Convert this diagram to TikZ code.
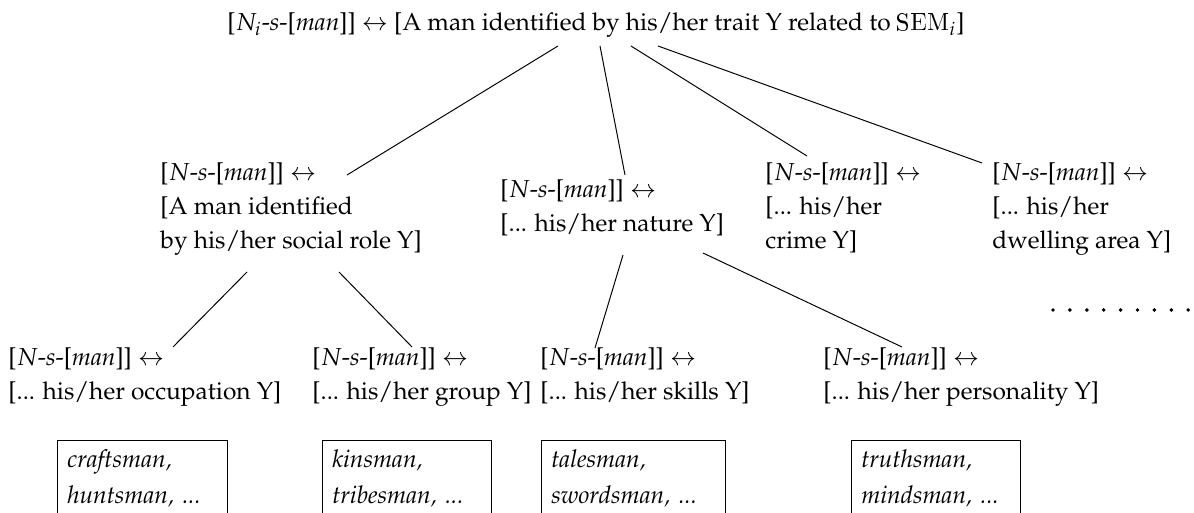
\documentclass[tikz,border=0pt]{standalone}
\usepackage[T1]{fontenc}
\usepackage{mathpazo}
\usetikzlibrary{positioning, calc}

\newcommand{\nsman}{[$N$-\textit{s}-[\textit{man}]] $\leftrightarrow$}

\tikzset{
    cx/.style={anchor=base west, align=left, inner sep=0pt,
        font=\fontsize{10}{13.9}\selectfont},
    exbox/.style={draw, anchor=north west, align=left, inner xsep=4pt,
        inner ysep=4pt, text width=#1, text depth=30pt,
        font=\fontsize{10}{14.5}\selectfont\itshape}
}

\begin{document}
\begin{tikzpicture}[x=0.408pt, y=-0.408pt]
    \useasboundingbox (0,0) rectangle (1194,513);
    \clip (0,0) rectangle (1194,513);

    \node[cx, anchor=base] (root) at (596,31) {[$N_i$-\textit{s}-[\textit{man}]] $\leftrightarrow$ [A man identified by his/her trait Y related to \textsf{SEM}$_i$]};

    % second level (placed by last line)
    \node[cx] (soc) at (160,249) {\nsman\\ {[}A man identified\\ by his/her social role Y]};
    \node[cx] (nat) at (500,232) {\nsman\\ {[}... his/her nature Y]};
    \node[cx] (crm) at (765,249) {\nsman\\ {[}... his/her\\ crime Y]};
    \node[cx] (dwl) at (992,249) {\nsman\\ {[}... his/her\\ dwelling area Y]};

    % third level
    \node[cx] (occ) at (8,400) {\nsman\\ {[}... his/her occupation Y]};
    \node[cx] (grp) at (312,400) {\nsman\\ {[}... his/her group Y]};
    \node[cx] (skl) at (540,400) {\nsman\\ {[}... his/her skills Y]};
    \node[cx] (prs) at (823,400) {\nsman\\ {[}... his/her personality Y]};

    \node[exbox=61.4pt] (occex) at (57,440) {craftsman,\\ huntsman, ...};
    \node[exbox=61pt] (grpex) at (322,440) {kinsman,\\ tribesman, ...};
    \node[exbox=67pt] (sklex) at (541,440) {talesman,\\ swordsman, ...};
    \node[exbox=61pt] (prsex) at (851,440) {truthsman,\\ mindsman, ...};

    \draw ($(root.base)+(-38,15)$) -- ($(soc.base west)+(187,-74)$);
    \draw ($(root.base)+(4,15)$) -- ($(nat.base west)+(125,-57)$);
    \draw ($(root.base)+(35,15)$) -- ($(crm.base west)+(42,-93)$);
    \draw ($(root.base)+(62,15)$) -- ($(dwl.base west)+(-10,-86)$);

    \draw ($(soc.base west)+(87,23)$) -- ($(occ.base west)+(165,-53)$);
    \draw ($(soc.base west)+(179,23)$) -- ($(grp.base west)+(100,-53)$);
    \draw ($(nat.base west)+(123,23)$) -- ($(skl.base west)+(55,-52)$);
    \draw ($(nat.base west)+(203,21)$) -- ($(prs.base west)+(79,-53)$);

    % more siblings
    \foreach \i in {0,...,8}
        \fill (1053+16.9*\i,310) circle (0.8pt);
\end{tikzpicture}
\end{document}
